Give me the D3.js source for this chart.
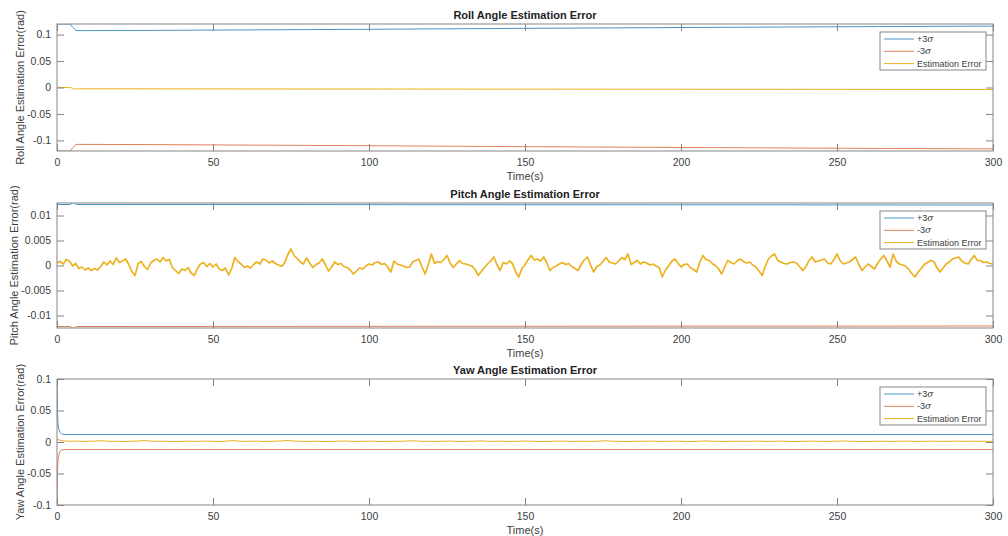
<!DOCTYPE html>
<html>
<head>
<meta charset="utf-8">
<script src="https://cdn.jsdelivr.net/npm/d3@7"></script>
<style>
html,body{margin:0;padding:0;background:#fff;}
svg{display:block;font-family:"Liberation Sans",Arial,Helvetica,sans-serif;}
</style>
</head>
<body>
<svg id="chart" width="1008" height="536"></svg>
<script>
// ---------------- DATA ----------------
const xTicks = [0, 50, 100, 150, 200, 250, 300];
const rollYTicks = [-0.1, -0.05, 0, 0.05, 0.1];
const pitchYTicks = [-0.01, -0.005, 0, 0.005, 0.01];
const yawYTicks = [-0.1, -0.05, 0, 0.05, 0.1];
const legendLabels = ["+3", "-3", "Estimation Error"];

// Roll (sparse samples, s / rad)
const rollTime  = [0, 4.2, 5.0, 6.1, 7, 25, 50, 100, 150, 200, 250, 300];
const rollPlus  = [0.12, 0.12, 0.114, 0.1076, 0.1075, 0.1078, 0.1085, 0.110, 0.1118, 0.1133, 0.1148, 0.1160];
const rollMinus = [-0.12, -0.12, -0.114, -0.1076, -0.1075, -0.1078, -0.1085, -0.110, -0.1118, -0.1133, -0.1148, -0.1160];
const rollErrTime = [0, 4, 4.8, 5.5, 6.2, 7, 25, 50, 100, 150, 200, 250, 300];
const rollErr     = [0, 0, -0.0008, -0.0035, -0.0022, -0.0025, -0.0025, -0.0027, -0.0029, -0.0031, -0.0033, -0.0035, -0.0037];

// Pitch sigma bounds (sparse)
const pitchSigTime  = [0, 4.2, 4.8, 5.2, 5.6, 6.3, 300];
const pitchPlus     = [0.0122, 0.0122, 0.01245, 0.0126, 0.01245, 0.0122, 0.0121];
const pitchMinus    = [-0.0122, -0.0122, -0.01245, -0.0126, -0.01245, -0.0122, -0.0121];
// Pitch estimation error, one sample per second t = 0..300 (rad)
const pitchErr = [
 0.0005, 0.0008, 0.0003, 0.0012, 0.0009,-0.0001, 0.0004,-0.0006,-0.0003,-0.0009,
-0.0005,-0.0010,-0.0006,-0.0009,-0.0002, 0.0007, 0.0001, 0.0009, 0.0002, 0.0015,
 0.0006, 0.0009, 0.0013, 0.0002,-0.0012,-0.0020, 0.0004, 0.0008,-0.0002,-0.0008,
 0.0005, 0.0010, 0.0013, 0.0007, 0.0016, 0.0009, 0.0012,-0.0004,-0.0010,-0.0016,
-0.0007,-0.0010,-0.0004,-0.0015,-0.0020,-0.0006, 0.0003, 0.0006,-0.0002, 0.0004,
-0.0003, 0.0003,-0.0007,-0.0010,-0.0005,-0.0019,-0.0006, 0.0016, 0.0008, 0.0003,
-0.0004,-0.0001,-0.0005, 0.0002, 0.0007, 0.0003, 0.0013, 0.0011, 0.0005, 0.0009,
 0.0004, 0.0001,-0.0002, 0.0006, 0.0022, 0.0033, 0.0020, 0.0014, 0.0007, 0.0003,
 0.0015, 0.0005,-0.0004, 0.0002, 0.0005, 0.0013, 0.0002,-0.0011,-0.0003, 0.0007,
 0.0002, 0.0004,-0.0002,-0.0004,-0.0009,-0.0017,-0.0011,-0.0005,-0.0007,-0.0001,
 0.0003, 0.0001, 0.0006, 0.0007, 0.0002, 0.0004,-0.0003,-0.0013, 0.0009, 0.0003,
 0.0001,-0.0001,-0.0004,-0.0003, 0.0007, 0.0010, 0.0013,-0.0003,-0.0017, 0.0002,
 0.0023, 0.0004, 0.0008, 0.0006, 0.0012, 0.0020, 0.0005,-0.0004, 0.0003, 0.0010,
 0.0004, 0.0003, 0.0001,-0.0001,-0.0008,-0.0020,-0.0012,-0.0004, 0.0003, 0.0009,
 0.0017, 0.0002,-0.0010, 0.0006, 0.0003, 0.0009, 0.0004,-0.0013,-0.0023,-0.0006,
 0.0001, 0.0012, 0.0020, 0.0011, 0.0013, 0.0009, 0.0017, 0.0005,-0.0010,-0.0004,
-0.0001, 0.0003, 0.0006, 0.0002, 0.0004,-0.0002,-0.0006,-0.0010, 0.0002, 0.0011,
 0.0017, 0.0001,-0.0013,-0.0002, 0.0001, 0.0008, 0.0016, 0.0007, 0.0005, 0.0003,
 0.0009, 0.0016, 0.0012, 0.0023, 0.0002, 0.0006, 0.0010, 0.0003, 0.0007, 0.0005,
 0.0001, 0.0003,-0.0001,-0.0004,-0.0023,-0.0009,-0.0001, 0.0008, 0.0013, 0.0005,
-0.0003, 0.0002, 0.0003,-0.0004,-0.0008,-0.0013, 0.0006, 0.0020, 0.0012, 0.0010,
 0.0004, 0.0000,-0.0006,-0.0017,-0.0003, 0.0010, 0.0006, 0.0003, 0.0009, 0.0013,
 0.0008, 0.0005, 0.0007, 0.0001,-0.0003,-0.0011,-0.0020,-0.0002, 0.0013, 0.0019,
 0.0023, 0.0010, 0.0007, 0.0004, 0.0003, 0.0006, 0.0007, 0.0005,-0.0002,-0.0010,
-0.0003, 0.0010, 0.0017, 0.0007, 0.0009, 0.0011, 0.0013, 0.0005, 0.0003, 0.0012,
 0.0023, 0.0010, 0.0003, 0.0005, 0.0007, 0.0012, 0.0017, 0.0002,-0.0010,-0.0003,
 0.0003,-0.0002,-0.0007, 0.0004, 0.0013, 0.0020, 0.0009,-0.0003, 0.0023, 0.0008,
 0.0003, 0.0001,-0.0001,-0.0008,-0.0016,-0.0023,-0.0013,-0.0006, 0.0002, 0.0006,
 0.0010, 0.0008,-0.0004,-0.0013,-0.0005, 0.0003, 0.0007, 0.0013, 0.0015, 0.0017,
 0.0009, 0.0005, 0.0003, 0.0012, 0.0020, 0.0010, 0.0010, 0.0006, 0.0007, 0.0004,
 0.0003
];

// Yaw sigma bounds (sparse)
const yawSigTime = [0, 0.15, 0.3, 0.6, 1.0, 1.5, 2.5, 300];
const yawPlus    = [0.1, 0.05, 0.03, 0.02, 0.015, 0.0125, 0.012, 0.012];
const yawMinus   = [-0.1, -0.05, -0.03, -0.02, -0.015, -0.0125, -0.012, -0.012];
// Yaw estimation error, one sample every 2 s, t = 0..300 (rad)
const yawErr = [
 0.0040, 0.0018, 0.0012, 0.0015, 0.0009, 0.0011, 0.0014, 0.0021, 0.0013, 0.0009,
 0.0011, 0.0007, 0.0012, 0.0016, 0.0023, 0.0014, 0.0010, 0.0012, 0.0008, 0.0006,
 0.0010, 0.0013, 0.0009, 0.0012, 0.0015, 0.0011, 0.0007, 0.0013, 0.0022, 0.0015,
 0.0009, 0.0011, 0.0014, 0.0008, 0.0010, 0.0013, 0.0017, 0.0024, 0.0015, 0.0010,
 0.0008, 0.0012, 0.0011, 0.0007, 0.0009, 0.0013, 0.0016, 0.0012, 0.0008, 0.0010,
 0.0014, 0.0011, 0.0006, 0.0009, 0.0012, 0.0010, 0.0015, 0.0020, 0.0013, 0.0009,
 0.0011, 0.0008, 0.0012, 0.0015, 0.0010, 0.0007, 0.0011, 0.0014, 0.0018, 0.0012,
 0.0009, 0.0013, 0.0010, 0.0008, 0.0011, 0.0016, 0.0012, 0.0009, 0.0007, 0.0010,
 0.0013, 0.0015, 0.0011, 0.0008, 0.0012, 0.0010, 0.0009, 0.0014, 0.0019, 0.0013,
 0.0010, 0.0007, 0.0009, 0.0012, 0.0011, 0.0015, 0.0012, 0.0008, 0.0010, 0.0013,
 0.0011, 0.0006, 0.0009, 0.0014, 0.0017, 0.0012, 0.0010, 0.0008, 0.0011, 0.0013,
 0.0009, 0.0010, 0.0014, 0.0012, 0.0008, 0.0011, 0.0015, 0.0010, 0.0007, 0.0009,
 0.0012, 0.0014, 0.0011, 0.0008, 0.0010, 0.0013, 0.0016, 0.0012, 0.0009, 0.0005,
 0.0008, 0.0011, 0.0013, 0.0010, 0.0009, 0.0012, 0.0015, 0.0011, 0.0008, 0.0010,
 0.0013, 0.0012, 0.0009, 0.0011, 0.0014, 0.0012, 0.0010, 0.0013, 0.0011, 0.0009,
 0.0010
];

// ---------------- STYLE / LAYOUT ----------------
const C_PLUS = "#4a94c8", C_MINUS = "#e0805a", C_ERR = "#edb120";
const AXIS_C = "#858585", TEXT_C = "#404040";
const left = 57, right = 993;

const svg = d3.select("#chart");
const x = d3.scaleLinear().domain([0, 300]).range([left, right]);
const fmt = d => String(+d.toFixed(6));

function pairs(t, v) { return t.map((tt, i) => [tt, v[i]]); }

const panels = [
  { id: "roll", top: 24, bottom: 151, yDomain: [-0.12, 0.12], yTicks: rollYTicks,
    title: "Roll Angle Estimation Error", ylabel: "Roll Angle Estimation Error(rad)",
    series: [
      { data: pairs(rollTime, rollPlus), color: C_PLUS, w: 1 },
      { data: pairs(rollTime, rollMinus), color: C_MINUS, w: 1 },
      { data: pairs(rollErrTime, rollErr), color: C_ERR, w: 1 }
    ] },
  { id: "pitch", top: 203, bottom: 328, yDomain: [-0.0125, 0.0125], yTicks: pitchYTicks,
    title: "Pitch Angle Estimation Error", ylabel: "Pitch Angle Estimation Error(rad)",
    series: [
      { data: pairs(pitchSigTime, pitchPlus), color: C_PLUS, w: 1 },
      { data: pairs(pitchSigTime, pitchMinus), color: C_MINUS, w: 1 },
      { data: pitchErr.map((v, i) => [i, v]), color: C_ERR, w: 1.7 }
    ] },
  { id: "yaw", top: 379, bottom: 505, yDomain: [-0.1, 0.1], yTicks: yawYTicks,
    title: "Yaw Angle Estimation Error", ylabel: "Yaw Angle Estimation Error(rad)",
    series: [
      { data: pairs(yawSigTime, yawPlus), color: C_PLUS, w: 1 },
      { data: pairs(yawSigTime, yawMinus), color: C_MINUS, w: 1 },
      { data: yawErr.map((v, i) => [i * 2, v]), color: C_ERR, w: 1 }
    ] }
];

panels.forEach(p => {
  const y = d3.scaleLinear().domain(p.yDomain).range([p.bottom, p.top]);
  const g = svg.append("g");

  svg.append("clipPath").attr("id", "clip-" + p.id)
    .append("rect").attr("x", left).attr("y", p.top)
    .attr("width", right - left).attr("height", p.bottom - p.top);

  const line = d3.line().x(d => x(d[0])).y(d => y(d[1]));
  const lg = g.append("g").attr("clip-path", "url(#clip-" + p.id + ")");
  p.series.forEach(s => {
    lg.append("path").datum(s.data).attr("d", line)
      .attr("fill", "none").attr("stroke", s.color)
      .attr("stroke-width", s.w)
      .attr("stroke-linejoin", "round");
  });

  const styleAxis = sel => {
    sel.select(".domain").remove();
    sel.selectAll("line").attr("stroke", AXIS_C);
    sel.selectAll("text").attr("fill", TEXT_C).attr("font-size", 10.5);
  };
  g.append("g").attr("transform", `translate(0,${p.bottom})`)
    .call(d3.axisBottom(x).tickValues(xTicks).tickFormat(fmt).tickSizeInner(-7).tickSizeOuter(0).tickPadding(8))
    .call(styleAxis);
  g.append("g").attr("transform", `translate(0,${p.top})`)
    .call(d3.axisTop(x).tickValues(xTicks).tickFormat("").tickSizeInner(-7).tickSizeOuter(0))
    .call(styleAxis);
  const ya = g.append("g").attr("transform", `translate(${left},0)`)
    .call(d3.axisLeft(y).tickValues(p.yTicks).tickFormat(fmt).tickSizeInner(-7).tickSizeOuter(0).tickPadding(6))
    .call(styleAxis);
  g.append("g").attr("transform", `translate(${right},0)`)
    .call(d3.axisRight(y).tickValues(p.yTicks).tickFormat("").tickSizeInner(-7).tickSizeOuter(0))
    .call(styleAxis);

  g.append("rect").attr("x", left).attr("y", p.top)
    .attr("width", right - left).attr("height", p.bottom - p.top)
    .attr("fill", "none").attr("stroke", AXIS_C).attr("stroke-width", 1);

  g.append("text").attr("x", (left + right) / 2).attr("y", p.top - 5)
    .attr("text-anchor", "middle").attr("font-size", 11).attr("font-weight", "bold")
    .attr("fill", "#222").text(p.title);

  g.append("text").attr("x", (left + right) / 2).attr("y", p.bottom + 29)
    .attr("text-anchor", "middle").attr("font-size", 11).attr("fill", TEXT_C).text("Time(s)");

  let maxW = 0;
  ya.selectAll("text").each(function () { maxW = Math.max(maxW, this.getBBox().width); });
  const lx = left - 6 - maxW - 3;
  g.append("text").attr("transform", `translate(${lx},${(p.top + p.bottom) / 2}) rotate(-90)`)
    .attr("text-anchor", "middle").attr("font-size", 11).attr("fill", TEXT_C).text(p.ylabel);

  const bx = right - 113, by = p.top + 8, bw = 106, bh = 38;
  const leg = g.append("g");
  leg.append("rect").attr("x", bx).attr("y", by).attr("width", bw).attr("height", bh)
    .attr("fill", "#fff").attr("stroke", AXIS_C).attr("stroke-width", 1);
  const cols = [C_PLUS, C_MINUS, C_ERR];
  legendLabels.forEach((lab, i) => {
    const ry = by + 7 + i * 12.3;
    leg.append("line").attr("x1", bx + 4).attr("x2", bx + 34).attr("y1", ry).attr("y2", ry)
      .attr("stroke", cols[i]).attr("stroke-width", 1);
    const t = leg.append("text").attr("x", bx + 37).attr("y", ry).attr("dy", "0.35em")
      .attr("font-size", 9).attr("fill", TEXT_C);
    t.append("tspan").text(lab);
    if (i < 2) t.append("tspan").attr("font-style", "italic").attr("font-family", "'DejaVu Serif',serif").text("σ");
  });
});
</script>
</body>
</html>
